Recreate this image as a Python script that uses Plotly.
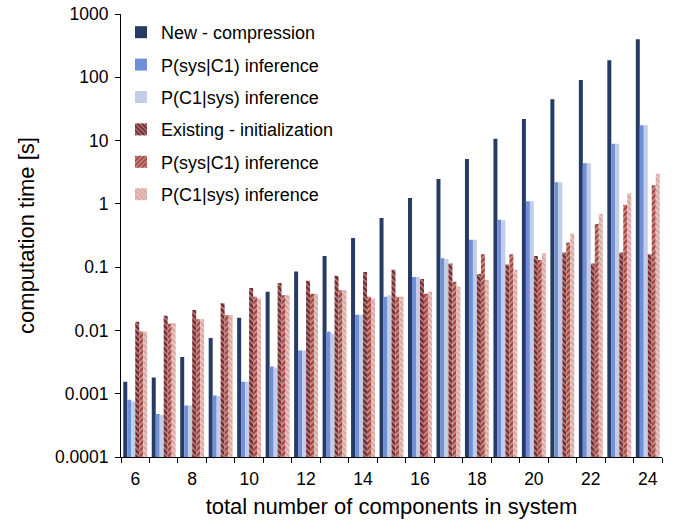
import plotly.graph_objects as go

categories = [str(n) for n in range(6, 25)]

new_compression = [0.00155, 0.0018, 0.0038, 0.0076, 0.0158, 0.041, 0.085, 0.15, 0.29, 0.60,
                   1.24, 2.48, 5.1, 10.7, 22, 45, 91, 186, 400]
new_sys_c1 = [0.0008, 0.00048, 0.00065, 0.00094, 0.00155, 0.0027, 0.0048, 0.0095, 0.0177, 0.034,
              0.070, 0.138, 0.27, 0.56, 1.1, 2.2, 4.4, 8.9, 17.5]
new_c1_sys = [0.00075, 0.00046, 0.00065, 0.00092, 0.00155, 0.0026, 0.0048, 0.0089, 0.0177, 0.036,
              0.070, 0.135, 0.27, 0.55, 1.1, 2.2, 4.4, 8.9, 17.5]
exist_init = [0.0137, 0.017, 0.021, 0.027, 0.047, 0.056, 0.061, 0.073, 0.084, 0.091,
              0.065, 0.114, 0.078, 0.11, 0.15, 0.17, 0.114, 0.17, 0.16]
exist_sys_c1 = [0.0096, 0.0127, 0.015, 0.0175, 0.034, 0.036, 0.038, 0.043, 0.034, 0.034,
                0.038, 0.059, 0.16, 0.16, 0.13, 0.245, 0.48, 0.97, 1.97]
exist_c1_sys = [0.0096, 0.013, 0.015, 0.0175, 0.032, 0.036, 0.038, 0.043, 0.032, 0.034,
                0.041, 0.049, 0.063, 0.091, 0.166, 0.34, 0.69, 1.47, 3.0]

y_tickvals = [0.0001, 0.001, 0.01, 0.1, 1, 10, 100, 1000]
y_ticktext = ["0.0001", "0.001", "0.01", "0.1", "1", "10", "100", "1000"]
x_ticktext = [c if int(c) % 2 == 0 else "" for c in categories]

series = [
    ("New - compression", new_compression, "#263a66", None),
    ("P(sys|C1) inference", new_sys_c1, "#6f8fd6", None),
    ("P(C1|sys) inference", new_c1_sys, "#c3cde8", None),
    ("Existing - initialization", exist_init, "#74282a", "\\"),
    ("P(sys|C1) inference", exist_sys_c1, "#a4443f", "/"),
    ("P(C1|sys) inference", exist_c1_sys, "#dba6a1", "\\"),
]

fig = go.Figure()
for i, (name, vals, color, shape) in enumerate(series):
    marker = dict(color=color, line=dict(width=0))
    if shape:
        marker["pattern"] = dict(shape=shape, fgcolor="white", fillmode="overlay",
                                 size=4, solidity=0.35)
    fig.add_trace(go.Bar(x=categories, y=vals, name=name, marker=marker,
                         legendgroup=f"g{i}"))

font_family = "Liberation Sans, Arial, sans-serif"
fig.update_layout(
    width=677, height=523,
    margin=dict(l=121, r=15, t=14, b=66, autoexpand=False),
    paper_bgcolor="white", plot_bgcolor="white",
    barmode="group", bargap=0.16, bargroupgap=0,
    font=dict(family=font_family, color="black", size=17),
    legend=dict(x=0.0, y=1.0, xanchor="left", yanchor="top",
                font=dict(size=18), tracegroupgap=6,
                bgcolor="rgba(0,0,0,0)", itemwidth=30),
    xaxis=dict(type="category", tickvals=categories, ticktext=x_ticktext,
               tickson="boundaries", ticks="outside", ticklen=5, tickcolor="black",
               showline=True, linecolor="black", linewidth=1, showgrid=False,
               tickfont=dict(size=17.5), ticklabelstandoff=6, tickangle=0,
               automargin=False,
               title=dict(text="total number of components in system", font=dict(size=22),
                          standoff=10)),
    yaxis=dict(type="log", range=[-4, 3], tickvals=y_tickvals, ticktext=y_ticktext,
               ticks="outside", ticklen=5, tickcolor="black",
               showline=True, linecolor="black", linewidth=1, showgrid=False,
               tickfont=dict(size=17.5), zeroline=False, ticklabelstandoff=3,
               automargin=False,
               title=dict(text="computation time [s]", font=dict(size=22), standoff=14)),
)

fig.write_html("out.html")
